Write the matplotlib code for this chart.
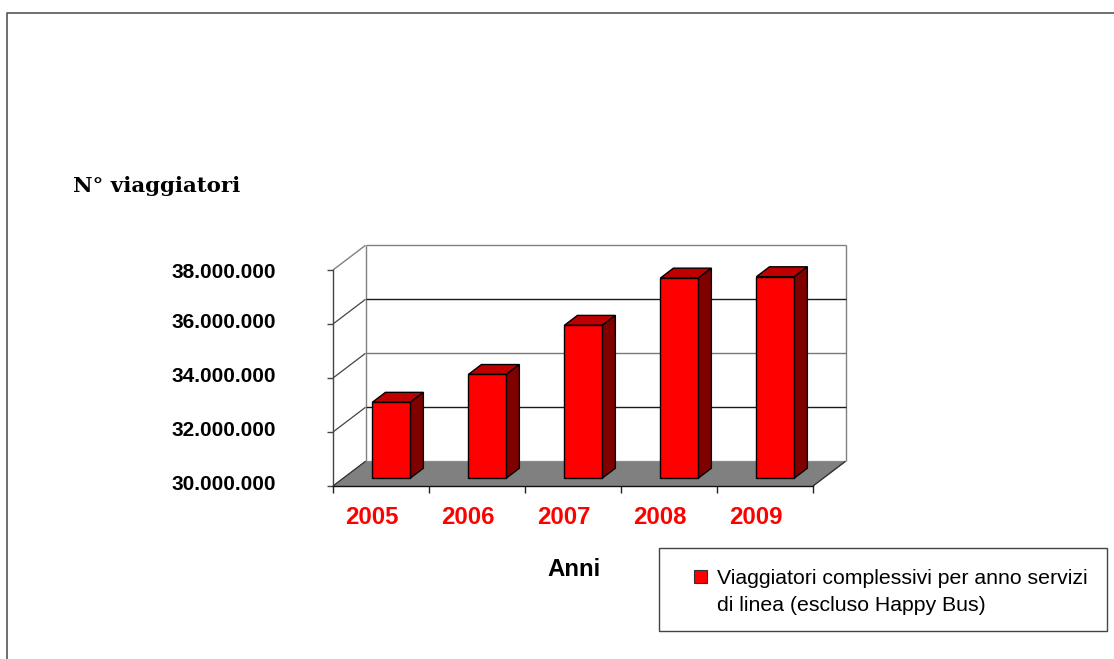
import matplotlib
matplotlib.use("Agg")
import matplotlib.pyplot as plt
from matplotlib.patches import Polygon, Rectangle, Patch
from matplotlib.transforms import Affine2D, IdentityTransform

years = ["2005", "2006", "2007", "2008", "2009"]
passengers = [32810000, 33840000, 35660000, 37410000, 37460000]
y_ticks = [30000000, 32000000, 34000000, 36000000, 38000000]
y_tick_labels = ["30.000.000", "32.000.000", "34.000.000", "36.000.000", "38.000.000"]
grid_colors = ["#1a1a1a", "#777777", "#1a1a1a"]
legend_lines = ["Viaggiatori complessivi per anno servizi", "di linea (escluso Happy Bus)"]
x_title = "Anni"
y_title = "N° viaggiatori"

W, H = 1114, 659
fig = plt.figure(figsize=(W / 100, H / 100), dpi=100, facecolor="white")

# Front plane of the oblique box, given in pixels from the top-left corner
left, right, top, bottom = 333, 813, 270, 486
ax = fig.add_axes([left / W, 1 - bottom / H, (right - left) / W, (bottom - top) / H])
ax.set_xlim(0, len(years))
ax.set_ylim(y_ticks[0], y_ticks[-1])
ax.patch.set_visible(False)

DEPTH_X, DEPTH_Y = 32.5, 24.7
ymin, ymax = y_ticks[0], y_ticks[-1]
n = len(years)


def at_depth(d):
    """Data transform shifted d (0 front, 1 back) into the oblique depth."""
    return ax.transData + Affine2D().translate(DEPTH_X * d, DEPTH_Y * d)


def face(points, d_values, **kw):
    """Fill a polygon whose vertices each have their own depth."""
    pts = [at_depth(d).transform(p) for p, d in zip(points, d_values)]
    ax.add_patch(Polygon(pts, closed=True, transform=IdentityTransform(),
                         clip_on=False, **kw))


def seg(p0, d0, p1, d1, **kw):
    a = at_depth(d0).transform(p0)
    b = at_depth(d1).transform(p1)
    ax.plot([a[0], b[0]], [a[1], b[1]], transform=IdentityTransform(),
            clip_on=False, solid_capstyle="butt", **kw)


# Floor
face([(0, ymin), (n, ymin), (n, ymin), (0, ymin)], [0, 0, 1, 1],
     facecolor="#808080", edgecolor="#808080", linewidth=0.6, zorder=1)

# Back wall and its frame
seg((0, ymax), 1, (n, ymax), 1, color="#808080", lw=1.0, zorder=1)
seg((n, ymin), 1, (n, ymax), 1, color="#808080", lw=1.0, zorder=1)
seg((0, ymin), 1, (0, ymax), 1, color="#808080", lw=1.0, zorder=1)
seg((n, ymin), 0, (n, ymin), 1, color="#333333", lw=1.0, zorder=1)

# Gridlines along the back wall and the side wall
for value, col in zip(y_ticks[1:-1], grid_colors[::-1]):
    seg((0, value), 1, (n, value), 1, color=col, lw=1.0, zorder=1)
    seg((0, value), 0, (0, value), 1, color="#444444", lw=0.9, zorder=1)
seg((0, ymax), 0, (0, ymax), 1, color="#808080", lw=1.0, zorder=1)
seg((0, ymin), 0, (0, ymin), 1, color="#333333", lw=0.9, zorder=1)

# Bars: front, top and side faces
BAR_FRONT, BAR_BACK = 0.32, 0.72
BAR_WIDTH = 0.395
for i, value in enumerate(passengers):
    x0, x1 = i + 0.5 - BAR_WIDTH / 2, i + 0.5 + BAR_WIDTH / 2
    style = dict(edgecolor="black", linewidth=1.0, joinstyle="miter", zorder=3)
    face([(x0, value), (x1, value), (x1, value), (x0, value)],
         [BAR_FRONT, BAR_FRONT, BAR_BACK, BAR_BACK], facecolor="#bf0000", **style)
    face([(x1, ymin), (x1, value), (x1, value), (x1, ymin)],
         [BAR_FRONT, BAR_FRONT, BAR_BACK, BAR_BACK], facecolor="#800000", **style)
    face([(x0, ymin), (x1, ymin), (x1, value), (x0, value)],
         [BAR_FRONT] * 4, facecolor="#ff0000", **style)

# Axes
for side in ("top", "right"):
    ax.spines[side].set_visible(False)
ax.spines["left"].set_color("#444444")
ax.spines["bottom"].set_color("#111111")
ax.spines["left"].set_linewidth(1.0)
ax.spines["bottom"].set_linewidth(1.0)

ax.set_yticks(y_ticks)
ax.set_yticklabels(y_tick_labels, fontfamily="Liberation Sans", fontweight="bold",
                   fontsize=15, color="black")
ax.tick_params(axis="y", direction="out", length=4, width=1, color="#444444", pad=54)
# Labels sit a little above their ticks, except the topmost one
y_labels = ax.get_yticklabels()
for lab in y_labels:
    lab.set_transform(lab.get_transform() + Affine2D().translate(24, 3))
y_labels[-1].set_transform(y_labels[-1].get_transform() + Affine2D().translate(0, -3))

ax.set_xticks(range(n + 1))
ax.set_xticklabels([])
ax.set_xticks([i + 0.5 for i in range(n)], minor=True)
ax.set_xticklabels(years, minor=True, fontfamily="Liberation Sans", fontweight="bold",
                   fontsize=17.3, color="#ff0000")
ax.tick_params(axis="x", which="major", direction="out", length=5, width=1, color="#222222")
ax.tick_params(axis="x", which="minor", length=0, pad=14.5)
for lab in ax.get_xticklabels(minor=True):
    lab.set_transform(lab.get_transform() + Affine2D().translate(-9, 0))


def fx(px):
    return px / W


def fy(py):
    return 1 - py / H


fig.text(fx(574.5), fy(569), x_title, fontfamily="Liberation Sans", fontweight="bold",
         fontsize=17.3, ha="center", va="center")
fig.text(fx(73), fy(186), y_title, fontfamily="DejaVu Serif", fontweight="bold",
         fontsize=15.4, ha="left", va="center")

# Outer frame: only the top and left edges fall inside the figure
fig.add_artist(plt.Line2D([fx(7), fx(7), fx(W)], [fy(H), fy(13), fy(13)],
                          color="#555555", lw=1.2))

# Legend box: the handle lines up with the first text line only
fig.add_artist(Rectangle((fx(659), fy(631)), fx(1107 - 659), (631 - 548) / H,
                         transform=fig.transFigure, facecolor="white",
                         edgecolor="#444444", lw=1.0))
legend_handles = [Patch(facecolor="#ff0000", edgecolor="#333333", linewidth=0.8),
                  Patch(visible=False)]
fig.legend(handles=legend_handles, labels=legend_lines, loc="center left",
           bbox_to_anchor=(fx(694), fy(592)), frameon=False,
           prop={"family": "Liberation Sans", "size": 15.3},
           handlelength=0.62, handleheight=0.62, handletextpad=0.47,
           borderpad=0, borderaxespad=0, labelspacing=0.38)

fig.savefig("out.png", dpi=100, facecolor="white")
